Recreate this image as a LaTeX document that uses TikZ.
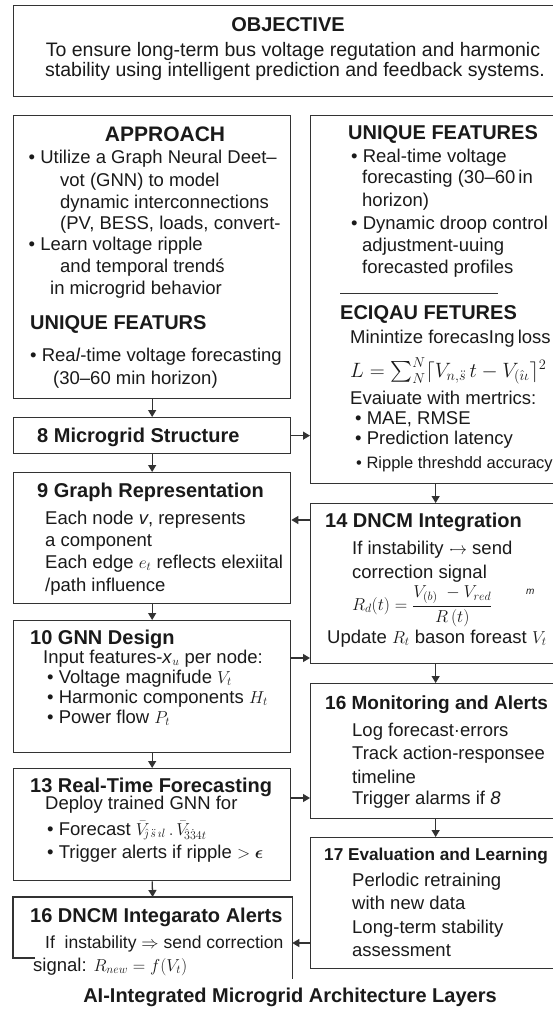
\documentclass[tikz,border=0pt]{standalone}
\usepackage{amsmath}
\usepackage{fontspec}
\setmainfont{Liberation Sans}
\usetikzlibrary{arrows.meta}
\definecolor{linec}{HTML}{333333}
\definecolor{txtc}{HTML}{1A1A1A}
\newcommand\fb{\fontsize{18.5}{22}\selectfont}
\newcommand\fh{\fontsize{20}{24}\selectfont\bfseries}
\begin{document}
\begin{tikzpicture}[x=1pt,y=-1pt,
  box/.style={draw=linec, line width=1.3pt, inner sep=0pt, anchor=north west},
  arr/.style={draw=linec, line width=1.3pt, -{Triangle[length=7pt,width=8pt]}},
  tx/.style={anchor=base west, inner sep=0pt, text=txtc, font=\fb},
  hd/.style={anchor=base west, inner sep=0pt, text=txtc, font=\fh},
  sepline/.style={draw=linec, line width=0.9pt}]
\useasboundingbox[fill=white] (0,0) rectangle (552,1019);

% Objective
\node[box, minimum width=545pt, minimum height=91pt] (obj) at (13,5) {};
\node[hd, anchor=base] (objT) at (288,32) {OBJECTIVE};
\node[tx, anchor=base, font=\fontsize{19.5}{23}\selectfont] (objA) at (293,57) {To ensure long-term bus voltage regutation and harmonic};
\node[tx, anchor=base, font=\fontsize{19.5}{23}\selectfont] (objB) at (295,77) {stability using intelligent prediction and feedback systems.};

% Approach
\node[box, minimum width=277pt, minimum height=283pt] (appr) at (13,115) {};
\node[hd, anchor=base, font=\fontsize{21}{24}\selectfont\bfseries] (apT) at (165,142) {APPROACH};
\node[tx] (ap1) at (28.5,164) {• Utilize a Graph Neural Deet–};
\node[tx] (ap2) at (60,186) {vot (GNN) to model};
\node[tx] (ap3) at (60,208) {dynamic interconnections};
\node[tx] (ap4) at (60,229) {(PV, BESS, loads, convert-};
\node[tx] (ap5) at (28.5,250) {• Learn voltage ripple};
\node[tx] (ap6) at (60,272) {and temporal trendś};
\node[tx] (ap7) at (50,294) {in microgrid behavior};
\node[hd] (apU) at (30,329) {UNIQUE FEATURS};
\node[tx] (ap8) at (30,361) {• Rea\textit{l}-time voltage forecasting};
\node[tx] (ap9) at (53,384) {(30–60 min horizon)};

% 8
\node[box, minimum width=277pt, minimum height=36pt] (ms) at (13,417) {};
\node[hd] (msT) at (37,442) {8 Microgrid Structure};

% 9
\node[box, minimum width=277pt, minimum height=131pt] (gr) at (13,472) {};
\node[hd] (grT) at (37,497) {9 Graph Representation};
\node[tx] (gr1) at (45,524) {Each node \textit{v}, represents};
\node[tx] (gr2) at (45,546) {a component};
\node[tx] (gr3) at (45,568) {Each edge $e_{t}$ reflects elexiital};
\node[tx] (gr4) at (45,591) {/path influence};

% 10
\node[box, minimum width=277pt, minimum height=132pt] (gd) at (13,620) {};
\node[hd] (gdT) at (30,644) {10 GNN Design};
\node[tx] (gd1) at (43,663) {Input features-\textit{x}$_{u}$ per node:};
\node[tx] (gd2) at (47,683) {• Voltage magnifude $V_{t}$};
\node[tx] (gd3) at (47,703) {• Harmonic components $H_{t}$};
\node[tx] (gd4) at (47,723) {• Power flow $P_{t}$};

% 13
\node[box, minimum width=277pt, minimum height=112pt] (rt) at (13,768) {};
\node[hd] (rtT) at (30,792) {13 Real-Time Forecasting};
\node[tx] (rt1) at (45,809) {Deploy trained GNN for};
\node[tx] (rt2) at (47,835) {• Forecast $\bar{V}_{\!\hat{\jmath}\,\ddot{s}\,\imath l}\,.\,\bar{V}_{\!\hat{3}\dot{3}4t}$};
\node[tx] (rt3) at (47,858) {• Trigger alerts if ripple $>\boldsymbol{\epsilon}$};

% 16 DNCM (open box)
\node[box, draw=none, minimum width=278pt, minimum height=81pt] (dn) at (13,897) {};
\coordinate (dnEnd) at (35,958);
\draw[draw=linec, line width=1.3pt] (dnEnd) -- (13,958) -- (dn.north west) -- (dn.north east) -- (dn.south east);
\node[hd] (dnT) at (30,922) {16 DNCM Integarato Alerts};
\node[tx, font=\fontsize{17.5}{22}\selectfont] (dn1) at (45,948) {If\ \ instability $\Rightarrow$ send correction};
\node[tx] (dn2) at (33,971) {signal: $R_{new}=f(V_{t})$};

% Right column: unique features
\node[box, minimum width=250pt, minimum height=368pt] (uf) at (310,115) {};
\node[hd] (ufT) at (348,140) {UNIQUE FEATURES};
\node[tx] (uf1) at (351,163) {• Real-time voltage};
\node[tx] (uf2) at (362,184) {forecasting (30–60\,in};
\node[tx] (uf3) at (362,206) {horizon)};
\node[tx] (uf4) at (351,229) {• Dynamic droop control};
\node[tx] (uf5) at (362,251) {adjustment-uuing};
\node[tx] (uf6) at (362,273) {forecasted profiles};
\draw[sepline] (340,293) -- (498,293);
\node[hd] (ufE) at (340,319) {ECIQAU FETURES};
\node[tx] (uf7) at (350,343) {Minintize forecasIng\,loss};
\node[tx, anchor=west, font=\fontsize{21}{24}\selectfont] (ufL) at (350,371) {$L=\sum_{N}^{N}\lceil V_{n,\ddot{s}}\,t - V_{(\hat{\imath}\iota}\rceil^{2}$};
\node[tx] (uf8) at (350,404) {Evaiuate with mertrics:};
\node[tx] (uf9) at (355,424) {• MAE, RMSE};
\node[tx] (uf10) at (355,444) {• Prediction latency};
\node[tx, font=\fontsize{16.5}{22}\selectfont] (uf11) at (356,468) {• Ripple threshdd accuracy};

% 14
\node[box, minimum width=250pt, minimum height=160pt] (dc) at (310,503) {};
\node[hd] (dcT) at (325,527) {14 DNCM Integration};
\node[tx] (dc1) at (352,554) {If instability $\cdot\!\!\!\rightarrow$ send};
\node[tx] (dc2) at (352,578) {correction signal};
\node[tx, anchor=west, font=\fontsize{18}{22}\selectfont] (dcF) at (352,606) {$R_{d}(t)=\dfrac{V_{(b)}\;-V_{red}}{R\,(t)}$};
\node[tx, font=\fontsize{10}{10}\selectfont\itshape] (dcM) at (526,594) {m};
\node[tx] (dc3) at (327,643) {Update $R_{t}$ bason foreast $V_{t}$};

% 16 Monitoring
\node[box, minimum width=250pt, minimum height=135pt] (mo) at (310,683) {};
\node[hd, font=\fontsize{19}{24}\selectfont\bfseries] (moT) at (325,709) {16 Monitoring and Alerts};
\node[tx] (mo1) at (352,736) {Log forecast·errors};
\node[tx] (mo2) at (352,759) {Track action-responsee};
\node[tx] (mo3) at (352,783) {timeline};
\node[tx] (mo4) at (352,804) {Trigger alarms if \textit{8}};

% 17
\node[box, minimum width=250pt, minimum height=131pt] (ev) at (310,837) {};
\node[hd, font=\fontsize{17.2}{24}\selectfont\bfseries] (evT) at (324,860) {17 Evaluation and Learning};
\node[tx] (ev1) at (352,886) {Perlodic retraining};
\node[tx] (ev2) at (352,909) {with new data};
\node[tx] (ev3) at (352,933) {Long-term stability};
\node[tx] (ev4) at (352,956) {assessment};

% Title
\node[hd, anchor=base] (title) at (290,1002) {AI-Integrated Microgrid Architecture Layers};

% Vertical arrows
\draw[arr] (appr.south) -- (ms.north);
\draw[arr] (ms.south) -- (gr.north);
\draw[arr] (gr.south) -- (gd.north);
\draw[arr] (gd.south) -- (rt.north);
\draw[arr] (rt.south) -- (dn.north);
\draw[arr] (uf.south) -- (dc.north);
\draw[arr] (dc.south) -- (mo.north);
\draw[arr] (mo.south) -- (ev.north);

% Horizontal arrows
\coordinate (h1) at (ms.east);
\draw[arr] (h1) -- (h1 -| uf.west);
\coordinate (h2) at (dc.west |- 0,520);
\draw[arr] (h2) -- (h2 -| gr.east);
\coordinate (h3) at (gd.east |- 0,658);
\draw[arr] (h3) -- (h3 -| dc.west);
\coordinate (h4) at (rt.east |- 0,798);
\draw[arr] (h4) -- (h4 -| mo.west);
\coordinate (h5) at (ev.west |- 0,943);
\draw[arr] (h5) -- (h5 -| dn.east);
\end{tikzpicture}
\end{document}
